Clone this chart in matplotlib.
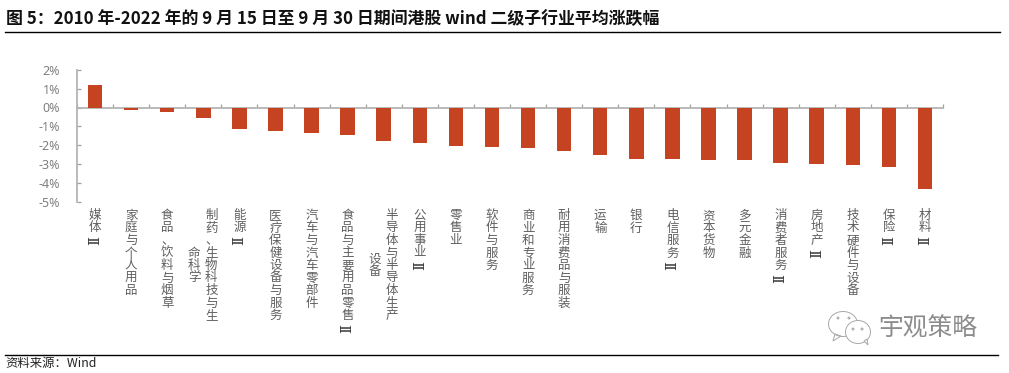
import matplotlib
matplotlib.use('Agg')
import matplotlib.pyplot as plt
from matplotlib.patches import Ellipse, Polygon
import numpy as np

plt.rcParams['font.family'] = ['Noto Sans CJK SC', 'DejaVu Sans']

# Data
title = '图 5：2010 年-2022 年的 9 月 15 日至 9 月 30 日期间港股 wind 二级子行业平均涨跌幅'
source = '资料来源：Wind'
watermark = '宇观策略'
industries = ['媒体Ⅱ', '家庭与个人用品', '食品、饮料与烟草', '制药、生物科技与生命科学', '能源Ⅱ',
              '医疗保健设备与服务', '汽车与汽车零部件', '食品与主要用品零售Ⅱ', '半导体与半导体生产设备',
              '公用事业Ⅱ', '零售业', '软件与服务', '商业和专业服务', '耐用消费品与服装', '运输', '银行',
              '电信服务Ⅱ', '资本货物', '多元金融', '消费者服务Ⅱ', '房地产Ⅱ', '技术硬件与设备', '保险Ⅱ', '材料Ⅱ']
changes = [1.19, -0.12, -0.22, -0.55, -1.12, -1.23, -1.33, -1.45, -1.76, -1.86, -2.02, -2.07,
           -2.16, -2.28, -2.51, -2.72, -2.72, -2.80, -2.80, -2.94, -2.99, -3.04, -3.13, -4.31]
y_ticks = [2, 1, 0, -1, -2, -3, -4, -5]

W, H = 1009, 373
fig = plt.figure(figsize=(W / 100, H / 100), dpi=100)

# Plot area
ax = fig.add_axes([77 / W, 1 - 202 / H, 866 / W, 132.3 / H])
x = np.arange(len(industries))
ax.bar(x, changes, width=0.4, color='#C64322', zorder=3)
ax.set_xlim(-0.5, len(industries) - 0.5)
ax.set_ylim(-5, 2)
for s in ['top', 'right']:
    ax.spines[s].set_visible(False)
ax.spines['bottom'].set_position(('data', 0))
ax.spines['bottom'].set_color('#B4B4B4')
ax.spines['left'].set_color('#B4B4B4')
ax.spines['bottom'].set_linewidth(1.3)
ax.spines['left'].set_linewidth(1.3)
ax.set_xticks(np.arange(len(industries) + 1) - 0.5)
ax.set_xticklabels([])
ax.set_yticks(y_ticks)
ax.set_yticklabels(['%d%%' % v for v in y_ticks], color='#7F7F7F', fontsize=9,
                   family=['Noto Sans', 'DejaVu Sans'])
ax.tick_params(axis='both', direction='in', length=3, width=0.9, color='#A0A0A0')
ax.tick_params(axis='y', pad=12)

# Overlay in pixel coordinates for the page furniture
pg = fig.add_axes([0, 0, 1, 1], zorder=5)
pg.set_xlim(0, W)
pg.set_ylim(H, 0)
pg.axis('off')

pg.text(6, 19.5, title, fontsize=12.2, fontweight='bold', color='#111111', va='center', ha='left')
pg.plot([5, 1000], [31.5, 31.5], color='black', lw=1)
pg.plot([5, 998], [355, 355], color='black', lw=1)
pg.text(5, 363.5, source, fontsize=8.9, color='#222222', va='center', ha='left')

# Category names run top to bottom, nine characters to a column
LABEL_COLOR = '#5F5F5F'
PITCH = 12.55
SPACING = 0.95
for i, name in enumerate(industries):
    cx = 77 + 866 * (i + 0.5) / len(industries)
    roman = name.endswith('Ⅱ')
    body = name[:-1] if roman else name
    if len(body) > 9 and not roman:
        cols = [body[:9], body[9:]]
    else:
        cols = [body]
    if len(cols) == 2:
        pg.text(cx + 8, 265.5, '\n'.join(cols[0]), fontsize=9, color=LABEL_COLOR, ha='center', va='center',
                linespacing=SPACING)
        pg.text(cx - 9, 265.5, '\n'.join(cols[1]), fontsize=9, color=LABEL_COLOR, ha='center', va='center',
                linespacing=SPACING)
    else:
        pg.text(cx, 209, '\n'.join(cols[0]), fontsize=9, color=LABEL_COLOR, ha='center', va='top',
                linespacing=SPACING)
    if roman:
        pg.text(cx, 209 + PITCH * (len(body) + 0.5) + 0.5, 'Ⅱ', fontsize=11,
                color='#333333', rotation=90, ha='center', va='center', family='DejaVu Serif')

# Watermark
pg.add_patch(Ellipse((843, 324), 29, 25, fill=False, ec='#A8A8A8', lw=0.7))
pg.add_patch(Polygon([(835, 334), (833, 341), (841, 336)], closed=True, fill=False, ec='#A8A8A8', lw=0.7))
pg.add_patch(Ellipse((858, 332), 25, 23, fc='white', ec='#A8A8A8', lw=0.7))
pg.add_patch(Polygon([(864, 341), (868, 345), (867, 339)], closed=True, fc='white', ec='#A8A8A8', lw=0.7))
for ex, ey in [(838, 318), (849, 318), (853, 329), (862, 329)]:
    pg.add_patch(Ellipse((ex, ey), 2, 2, fill=False, ec='#999999', lw=0.6))
pg.text(927.5, 329, watermark, fontsize=17.8, color='#8C8C8C', fontweight='light', ha='center', va='center')

fig.savefig('out.png', dpi=100)
